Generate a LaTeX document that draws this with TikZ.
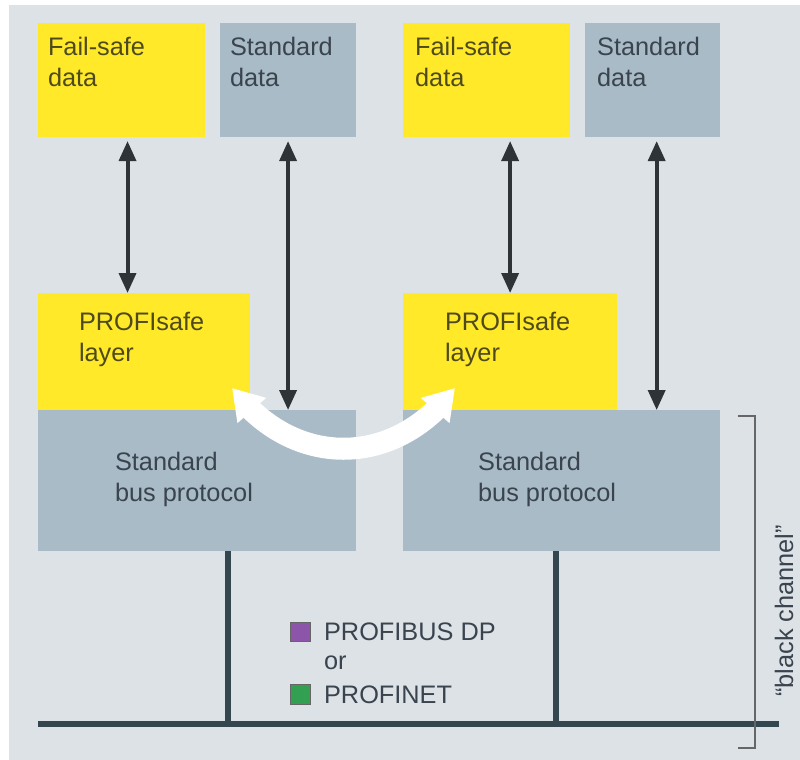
\documentclass[tikz,border=0pt]{standalone}
\usepackage{fontspec}
\setmainfont{Liberation Sans}
\usetikzlibrary{positioning,arrows.meta,bending,calc}

\definecolor{panelgray}{RGB}{221,226,230}
\definecolor{boxgray}{RGB}{169,187,198}
\definecolor{safeyellow}{RGB}{255,233,40}
\definecolor{arrowdark}{RGB}{45,51,55}
\definecolor{busdark}{RGB}{52,71,79}
\definecolor{txtolive}{RGB}{78,74,30}
\definecolor{txtslate}{RGB}{58,68,78}
\definecolor{legpurple}{RGB}{140,85,170}
\definecolor{leggreen}{RGB}{50,160,80}

\begin{document}
\begin{tikzpicture}[x=0.025cm, y=-0.025cm,
  every node/.style={inner sep=0pt, outer sep=0pt},
  safebox/.style={rectangle, fill=safeyellow, anchor=north west},
  stdbox/.style={rectangle, fill=boxgray, anchor=north west},
  lbl/.style={align=left, font=\fontsize{18}{22}\selectfont},
  dblarrow/.style={arrowdark, line width=0.1cm, shorten <=0.1cm,
    {Triangle[width=0.42cm,length=0.5cm]}-{Triangle[width=0.42cm,length=0.5cm]}},
  swaparrow/.style={white, line width=0.55cm,
    {Triangle[width=0.9cm,length=0.75cm]}-{Triangle[width=0.9cm,length=0.75cm]}},
  busline/.style={busdark, line width=0.15cm},
  legsq/.style={rectangle, draw=black!60, line width=0.6pt, minimum size=0.48cm},
  legtxt/.style={font=\fontsize{18}{22}\selectfont, text=txtslate}
]

  \useasboundingbox (0,0) rectangle (800,760);
  \fill[panelgray] (9,5) rectangle (800,760);

  % Left device

  \node[safebox, minimum width=4.175cm, minimum height=2.85cm] (fsA) at (38,23) {};
  \node[lbl, text=txtolive, below right=0.35cm and 0.25cm of fsA.north west] (fsAtxt) {Fail-safe\\data};

  \node[stdbox, minimum width=3.4cm, minimum height=2.85cm, right=0.375cm of fsA.north east, anchor=north west] (sdA) {};
  \node[lbl, text=txtslate, below right=0.35cm and 0.25cm of sdA.north west] (sdAtxt) {Standard\\data};

  \node[safebox, minimum width=5.3cm, minimum height=2.925cm, below=3.9cm of fsA.south west, anchor=north west] (psA) {};
  \node[lbl, text=txtolive, below right=0.475cm and 1.025cm of psA.north west] (psAtxt) {PROFIsafe\\layer};

  \node[stdbox, minimum width=7.95cm, minimum height=3.525cm, below=0cm of psA.south west, anchor=north west] (busA) {};
  \node[lbl, text=txtslate, below right=1.05cm and 1.925cm of busA.north west] (busAtxt) {Standard\\bus protocol};

  % Right device

  \node[safebox, minimum width=4.175cm, minimum height=2.85cm, right=1.175cm of sdA.north east, anchor=north west] (fsB) {};
  \node[lbl, text=txtolive, below right=0.35cm and 0.3cm of fsB.north west] (fsBtxt) {Fail-safe\\data};

  \node[stdbox, minimum width=3.375cm, minimum height=2.85cm, right=0.375cm of fsB.north east, anchor=north west] (sdB) {};
  \node[lbl, text=txtslate, below right=0.35cm and 0.3cm of sdB.north west] (sdBtxt) {Standard\\data};

  \node[safebox, minimum width=5.35cm, minimum height=2.925cm, below=3.9cm of fsB.south west, anchor=north west] (psB) {};
  \node[lbl, text=txtolive, below right=0.475cm and 1.05cm of psB.north west] (psBtxt) {PROFIsafe\\layer};

  \node[stdbox, minimum width=7.925cm, minimum height=3.525cm, below=0cm of psB.south west, anchor=north west] (busB) {};
  \node[lbl, text=txtslate, below right=1.05cm and 1.875cm of busB.north west] (busBtxt) {Standard\\bus protocol};

  % Data paths
  \coordinate (fsAout) at ([xshift=0.15cm]fsA.south);
  \draw[dblarrow] (fsAout) -- (fsAout |- psA.north);
  \draw[dblarrow] (sdA.south) -- (sdA.south |- busA.north);
  \draw[dblarrow] (psB.north |- fsB.south) -- (psB.north);
  \coordinate (sdBout) at ([xshift=0.1cm]sdB.south);
  \draw[dblarrow] (sdBout) -- (sdBout |- busB.north);

  % Safety layer exchange
  \coordinate (swapL) at (232,388);
  \coordinate (swapR) at (455,388);
  \draw[swaparrow] (swapL) .. controls (292,469) and (395,469) .. (swapR);

  % Bus
  \coordinate (busL) at (38,724);
  \coordinate (busR) at (779,724);
  \coordinate (tapA) at (228,724);
  \coordinate (tapB) at (556,724);
  \draw[busline] (busL) -- (busR);
  \draw[busline] (tapA |- busA.south) -- (tapA);
  \draw[busline] (tapB |- busB.south) -- (tapB);

  % Legend
  \node[legsq, fill=legpurple] (sqDP) at (300.5,632) {};
  \node[legtxt, right=0.35cm of sqDP] (txtDP) {PROFIBUS DP};
  \node[legsq, fill=leggreen] (sqNet) at (300.5,694.5) {};
  \node[legtxt, right=0.35cm of sqNet] (txtNet) {PROFINET};
  \node[legtxt, anchor=west] (txtOr) at ($(txtDP.west)!0.5!(txtNet.west)$) {or};

  % Black channel bracket
  \coordinate (brTop) at (738,416);
  \coordinate (brBot) at (738,748);
  \draw[black!60, line width=0.05cm] (brTop) -- ++(17,0) |- (brBot);
  \node[legtxt, rotate=90] (chan) at (784,611) {“black channel”};

\end{tikzpicture}
\end{document}
